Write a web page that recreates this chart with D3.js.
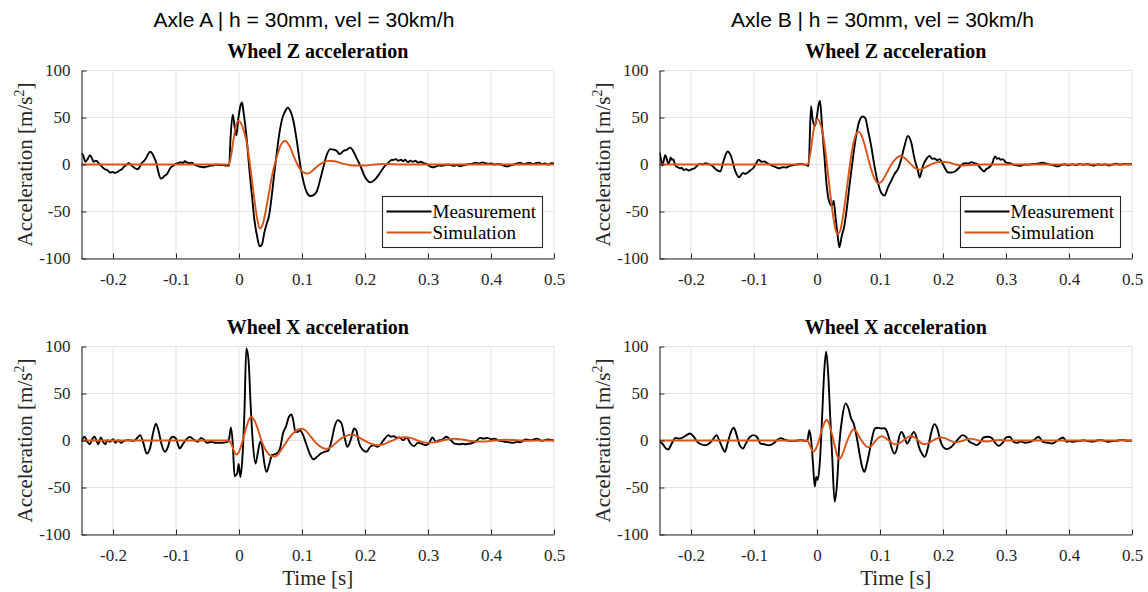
<!DOCTYPE html>
<html>
<head>
<meta charset="utf-8">
<script src="https://cdn.jsdelivr.net/npm/d3@7"></script>
<style>
  body { margin: 0; background: #fff; }
  svg { display: block; }
</style>
</head>
<body>
<svg id="chart" width="1148" height="592"></svg>
<script>
// ---- Labels and ticks ----
const axleTitles = ["Axle A | h = 30mm, vel = 30km/h", "Axle B | h = 30mm, vel = 30km/h"];
const panelTitles = ["Wheel Z acceleration", "Wheel X acceleration"];
const seriesNames = ["Measurement", "Simulation"];
const xTicks = [-0.2, -0.1, 0, 0.1, 0.2, 0.3, 0.4, 0.5];
const yTicks = [-100, -50, 0, 50, 100];
const xDomain = [-0.25, 0.5];
const yDomain = [-100, 100];

// ---- Axle A, wheel Z acceleration [time s, m/s^2] ----
const axleA_Z_meas = [
  [-0.25,12],[-0.247,9],[-0.244,3],[-0.240,6],[-0.2366,10],[-0.233,6],[-0.2308,3],[-0.227,4],[-0.222,1],
  [-0.218,-2],[-0.213,-5],[-0.209,-6],[-0.205,-8.5],[-0.200,-8],[-0.197,-9],[-0.193,-8],[-0.189,-6],
  [-0.186,-5],[-0.182,-2],[-0.178,0],[-0.175,1.5],[-0.172,0],[-0.169,-2],[-0.165,-4],[-0.162,-5],
  [-0.159,-4],[-0.155,1],[-0.152,3],[-0.148,6],[-0.145,10],[-0.141,13.5],[-0.138,12],[-0.135,8],
  [-0.131,1],[-0.128,-8],[-0.124,-15],[-0.121,-14],[-0.118,-12],[-0.114,-10],[-0.111,-6],[-0.108,-3],
  [-0.104,-1],[-0.1,1],[-0.096,1.5],[-0.092,2.5],[-0.089,1.5],[-0.086,3.5],[-0.082,2],[-0.078,1.5],
  [-0.075,2],[-0.071,0],[-0.068,-1],[-0.064,-2],[-0.06,-2.5],[-0.056,-3],[-0.053,-2.5],[-0.049,-2],
  [-0.045,-1],[-0.041,-1],[-0.037,0],[-0.033,-0.5],[-0.03,-0.7],[-0.026,-0.5],[-0.022,-1],[-0.018,-1],
  [-0.0155,-1],[-0.0135,27],[-0.010,53],[-0.007,41],[-0.0042,31],[-0.0012,48],[0.0021,62],[0.0048,66],
  [0.0074,55],[0.0106,37.7],[0.0138,16],[0.0169,-8.5],[0.0206,-33],[0.0243,-58],[0.0286,-76],
  [0.0328,-87],[0.0365,-85],[0.0402,-72.5],[0.0444,-62],[0.0476,-55],[0.0513,-37],[0.055,-15.6],
  [0.0593,9],[0.0635,30.5],[0.0683,48],[0.0735,57],[0.0772,60.5],[0.0815,57],[0.0868,45],[0.0921,23.5],
  [0.0974,-1.5],[0.1026,-19],[0.1079,-30],[0.1132,-33.5],[0.1185,-32.5],[0.1238,-28],[0.1291,-15.5],
  [0.1344,-1.5],[0.1397,11],[0.145,16.4],[0.1513,15.6],[0.155,14.6],[0.1598,11],[0.1661,14.6],
  [0.171,15.6],[0.1767,18],[0.181,14.6],[0.1862,7.5],[0.1926,-1.4],[0.2005,-13.9],[0.2085,-19],
  [0.2164,-15.6],[0.2243,-8.5],[0.231,-2],[0.236,1],[0.240,4],[0.245,5],[0.249,5.7],[0.253,4],
  [0.257,5],[0.2605,3.5],[0.264,5],[0.268,2.5],[0.272,4],[0.276,3],[0.28,4],[0.284,2],[0.289,3],
  [0.293,1.5],[0.297,1],[0.301,-1],[0.305,-2.5],[0.309,-3],[0.313,-2],[0.317,-1],[0.321,-1.5],
  [0.326,-1],[0.331,0],[0.336,-0.5],[0.341,-1.5],[0.346,-0.5],[0.351,-1.8],[0.356,-1],[0.361,0],
  [0.366,0.5],[0.371,1],[0.376,2],[0.381,1],[0.386,2.3],[0.391,1.5],[0.396,0.5],[0.401,1],[0.406,0],
  [0.411,0.5],[0.416,0],[0.421,-1.5],[0.426,-2],[0.431,-1],[0.436,0],[0.441,1],[0.446,2],[0.451,0.5],
  [0.456,1],[0.461,1.8],[0.466,0.5],[0.471,1.5],[0.476,2],[0.481,0.5],[0.486,1],[0.491,0],[0.496,1.5],
  [0.5,1]
];
const axleA_Z_sim = [
  [-0.25,0],[-0.016,0],[-0.012,12],[-0.008,30],[-0.004,43],[-0.001,46.5],[0.003,44],[0.008,35],
  [0.0127,22],[0.018,-3],[0.023,-30],[0.029,-58],[0.033,-68],[0.037,-65],[0.045,-40],[0.053,-10],
  [0.06,8],[0.066,20],[0.073,25],[0.08,20],[0.088,7],[0.096,-4],[0.104,-9],[0.109,-9.5],[0.115,-7.5],
  [0.124,-2],[0.133,2],[0.142,3.9],[0.152,3.5],[0.165,1],[0.182,-1],[0.2,-1],[0.215,0],[0.23,0.5],
  [0.26,0],[0.5,0]
];

// ---- Axle B, wheel Z acceleration ----
const axleB_Z_meas = [
  [-0.2497,12.8],[-0.2476,5],[-0.2456,-1],[-0.2433,4],[-0.241,10],[-0.2385,6],[-0.2363,0.7],
  [-0.2342,3],[-0.2322,7.5],[-0.2302,5],[-0.2282,5.7],[-0.2258,1],[-0.2235,-2],[-0.2205,-3],
  [-0.2177,-4],[-0.2148,-3.5],[-0.2119,-5.7],[-0.2075,-5],[-0.2031,-6.4],[-0.1988,-5],[-0.1944,-4],
  [-0.19,-1],[-0.1857,0.7],[-0.1813,0],[-0.177,1.4],[-0.1726,0.5],[-0.1682,-0.5],[-0.1638,-3],
  [-0.1595,-5.7],[-0.1537,-7.4],[-0.1478,5],[-0.142,13.8],[-0.1362,8.5],[-0.1304,-5.7],[-0.1234,-13.5],
  [-0.1176,-9],[-0.1138,-10],[-0.11,-8.5],[-0.1056,-6],[-0.1013,-4],[-0.0969,1],[-0.0925,5],
  [-0.0882,3],[-0.0838,3.2],[-0.078,1],[-0.0722,-1],[-0.0664,-2.5],[-0.0605,-4],[-0.0547,-3],
  [-0.0489,-3.2],[-0.0431,-1.5],[-0.0373,-0.7],[-0.0315,0],[-0.0256,0.7],[-0.0212,0],[-0.0169,-0.5],
  [-0.0145,-1.4],[-0.0133,-1.4],[-0.0095,62],[-0.0069,48],[-0.0032,41],[0,52],[0.0027,64],
  [0.0048,67.7],[0.008,41],[0.0117,9],[0.0154,-22.7],[0.0196,-40],[0.0239,-44],[0.0265,-38.6],
  [0.0292,-54.6],[0.0329,-76],[0.0355,-88],[0.0393,-76],[0.0435,-65],[0.0472,-47.5],[0.0515,-22.7],
  [0.0568,5.7],[0.0621,30.5],[0.0674,46.5],[0.0727,51],[0.0769,49],[0.0806,37.6],[0.0859,20],
  [0.0912,-1.4],[0.0966,-19],[0.1019,-30],[0.1072,-33],[0.1125,-24.5],[0.1178,-17.4],[0.1231,-10],
  [0.1284,-5],[0.1337,5.7],[0.139,20],[0.1443,30.5],[0.1496,23.4],[0.1549,5.7],[0.1602,-6.7],
  [0.1629,-13.8],[0.1682,-1.4],[0.1735,5.7],[0.1788,9.2],[0.1827,6],[0.1867,6.4],[0.1907,4.5],
  [0.1947,5.7],[0.2,0],[0.204,-5],[0.208,-8.5],[0.213,-8.5],[0.2189,-7.4],[0.2247,-4],[0.2305,0.3],
  [0.2363,1.4],[0.2407,1],[0.245,2.5],[0.2494,1.5],[0.2538,0.7],[0.2596,-4],[0.2625,-6],[0.2654,-7.4],
  [0.2683,-5],[0.2712,-4],[0.2771,-0.3],[0.2829,8.5],[0.2858,6],[0.2887,6.7],[0.2916,5],[0.2945,5.7],
  [0.3004,2],[0.3062,1.4],[0.312,-0.3],[0.3178,-1],[0.3236,-1.4],[0.3295,0],[0.3353,-0.3],
  [0.3411,0.5],[0.3469,0.7],[0.3528,1.2],[0.3586,2],[0.3644,0.8],[0.3702,-0.1],[0.376,-1],
  [0.3818,-2],[0.3876,-0.5],[0.3935,0.2],[0.3993,-0.8],[0.4051,0.3],[0.411,-0.5],[0.4168,0.5],
  [0.4226,-0.3],[0.4284,0.6],[0.4343,-0.5],[0.4401,-1.2],[0.4459,0.2],[0.4517,-0.6],[0.4575,0.3],
  [0.4634,-1],[0.4692,0],[0.475,0.8],[0.4808,-0.2],[0.4866,0.5],[0.4925,0.2],[0.5,0.6]
];
const axleB_Z_sim = [
  [-0.25,0],[-0.015,0],[-0.01,14],[-0.006,34],[-0.002,46],[0.001,48],[0.005,44],[0.01,30],
  [0.015,5],[0.02,-25],[0.025,-52],[0.029,-68],[0.033,-74],[0.037,-70],[0.042,-52],[0.048,-22],
  [0.054,8],[0.059,26],[0.065,35],[0.07,32],[0.076,20],[0.083,2],[0.09,-13],[0.097,-20],[0.103,-18],
  [0.11,-10],[0.118,0],[0.125,6],[0.132,9],[0.139,7],[0.148,1],[0.156,-4],[0.164,-5.5],[0.172,-3],
  [0.182,0.5],[0.192,2.5],[0.2,3],[0.21,2],[0.22,0],[0.232,-1],[0.245,-0.5],[0.26,0],[0.5,0]
];

// ---- Axle A, wheel X acceleration ----
const axleA_X_meas = [
  [-0.25,-1.4],[-0.2453,4],[-0.2407,-1.4],[-0.2366,-4],[-0.2326,2],[-0.2291,4],[-0.2262,-0.3],
  [-0.2233,-4],[-0.2192,3.2],[-0.2157,-1.4],[-0.2122,-4],[-0.2087,0.4],[-0.2047,-1.4],[-0.2,1.4],
  [-0.1959,-2.5],[-0.1919,0.4],[-0.1872,-2.5],[-0.1826,-0.4],[-0.1756,0.4],[-0.1669,-0.4],
  [-0.161,3.2],[-0.157,5.7],[-0.1523,-1.4],[-0.1465,-13.9],[-0.1407,-6.8],[-0.136,9.2],[-0.132,18],
  [-0.1279,11],[-0.1233,-3.2],[-0.1174,-12],[-0.1128,-6.8],[-0.1087,2],[-0.1047,4],[-0.1,2],
  [-0.0942,-8.5],[-0.0884,-3.2],[-0.0826,2],[-0.0779,3.9],[-0.0721,1],[-0.0651,-1.4],[-0.0605,2.8],
  [-0.0558,1],[-0.0506,-2.5],[-0.0448,-1.4],[-0.036,-2.5],[-0.0273,-2.5],[-0.0186,-1.4],
  [-0.0157,2],[-0.0128,13.9],[-0.0099,-3.2],[-0.007,-38],[-0.0029,-35],[-0.0006,-25],[0.0023,-38.8],
  [0.0058,-13.9],[0.0087,32],[0.0116,98],[0.0151,85.7],[0.0186,36],[0.0221,-3.2],[0.0262,-24.5],
  [0.0297,-13.9],[0.0337,-1.4],[0.0372,-8.5],[0.0395,-21],[0.0436,-33.4],[0.0483,-24.5],
  [0.0523,-15.6],[0.057,-14.6],[0.0616,-13],[0.0657,-6.8],[0.0698,7.5],[0.0744,14.6],[0.0791,25],
  [0.0831,27.7],[0.086,21.7],[0.0895,9.2],[0.093,9.2],[0.0965,11],[0.1006,7.5],[0.1064,-3.2],
  [0.1122,-13.9],[0.118,-20],[0.1238,-17.4],[0.1297,-13.9],[0.1355,-12],[0.1413,-11],[0.1471,0.4],
  [0.1517,14.6],[0.157,21.7],[0.1628,18],[0.1674,4],[0.1721,-6.8],[0.1779,2],[0.1826,12.8],
  [0.186,11],[0.1907,-3.2],[0.1965,-10],[0.2023,-12],[0.2081,-6.8],[0.214,-5],[0.2198,-6.8],
  [0.2256,-3.2],[0.2314,2],[0.2372,5.7],[0.2415,4],[0.2459,4.6],[0.2503,3],[0.2547,3.2],
  [0.2605,0.4],[0.2663,3.2],[0.2721,-3.2],[0.2779,-6],[0.2837,-2.5],[0.2895,-3.2],[0.2953,-5],
  [0.3012,-3.2],[0.307,3.2],[0.3128,-1.4],[0.3172,0],[0.3215,0.4],[0.3291,4],[0.336,0.4],
  [0.3419,-3.2],[0.3463,-3.8],[0.3506,-4],[0.355,-3.5],[0.3593,-4],[0.3636,-3.5],[0.368,-3.2],
  [0.3767,-0.4],[0.3826,2.8],[0.3884,2],[0.3942,2.8],[0.4,1.5],[0.4058,2],[0.4101,0.5],[0.4145,-0.4],
  [0.4233,-1.4],[0.4291,-2],[0.4349,-2.5],[0.4407,-1.5],[0.4465,-1.8],[0.4552,1],[0.464,0.4],
  [0.4727,2],[0.4814,-0.4],[0.4901,1],[0.5,0]
];
const axleA_X_sim = [
  [-0.25,0],[-0.016,0],[-0.012,-4],[-0.008,-11],[-0.004,-15],[0.0,-12],[0.005,-2],[0.01,10],
  [0.015,21],[0.019,25],[0.024,22],[0.03,12],[0.036,-1],[0.043,-11],[0.05,-16],[0.057,-17],
  [0.064,-13],[0.072,-5],[0.08,3],[0.088,9],[0.095,12],[0.1,12.5],[0.106,10.5],[0.113,5],[0.12,-1],
  [0.128,-6],[0.135,-8.5],[0.14,-8.7],[0.147,-6.5],[0.155,-2],[0.163,2.5],[0.17,5],[0.178,6.2],
  [0.186,5],[0.195,1.5],[0.203,-1.5],[0.212,-4],[0.22,-5],[0.229,-4],[0.238,-1.5],[0.247,1],
  [0.255,3],[0.262,3.5],[0.27,3],[0.28,1],[0.29,-1.5],[0.301,-2.5],[0.31,-2],[0.32,-0.5],[0.33,1],
  [0.342,1.8],[0.355,1],[0.368,-0.5],[0.383,-1.2],[0.398,-0.6],[0.41,0.3],[0.423,0.8],[0.44,0.3],
  [0.46,-0.3],[0.48,0],[0.5,0]
];

// ---- Axle B, wheel X acceleration ----
const axleB_X_meas = [
  [-0.2497,-1.4],[-0.2456,-3.2],[-0.241,-7.5],[-0.2363,-9.6],[-0.2305,-3.2],[-0.2247,2.8],
  [-0.2189,2],[-0.213,3.2],[-0.2072,5.7],[-0.2014,7.5],[-0.1956,4],[-0.1898,-1.4],[-0.1839,-4],
  [-0.1781,-5],[-0.1711,-3.2],[-0.1653,1],[-0.1595,5.7],[-0.1548,-0.4],[-0.1508,-6.8],[-0.1461,-12],
  [-0.142,-3.2],[-0.1374,7.5],[-0.1321,13.5],[-0.1275,5.7],[-0.1228,-5],[-0.1176,-8.5],
  [-0.1129,-3.2],[-0.1071,3.2],[-0.1013,5.7],[-0.0955,4],[-0.0896,-3.2],[-0.0838,-4],[-0.0768,-5],
  [-0.0693,-3.2],[-0.0634,0.4],[-0.0576,2.5],[-0.0518,1],[-0.0431,-0.4],[-0.0343,-0.4],[-0.0256,0.4],
  [-0.0186,-0.4],[-0.0151,0.4],[-0.0122,11],[-0.0093,0.4],[-0.0064,-24.5],[-0.0035,-49],
  [-0.0012,-38.8],[0.0012,-42],[0.0047,-21],[0.0081,25],[0.0116,75],[0.0146,94.5],[0.018,68],
  [0.021,25],[0.0244,-21],[0.0279,-65],[0.0314,-49],[0.0355,-3.2],[0.0402,25],[0.0454,39.5],
  [0.05,34],[0.0541,23.5],[0.0582,18],[0.0629,4],[0.0675,-13.9],[0.0716,-28],[0.0751,-33.4],
  [0.0792,-24.5],[0.0838,-10],[0.0879,4],[0.092,12.8],[0.0966,13.5],[0.1024,12.8],[0.1071,13],
  [0.1112,9.2],[0.1152,0.4],[0.1187,-8.5],[0.1228,-13.9],[0.1269,-8.5],[0.1304,4],[0.1345,9.2],
  [0.1385,4],[0.1432,-3.2],[0.1478,2],[0.1537,9.2],[0.1577,4],[0.1618,-6.8],[0.1665,-13.9],
  [0.1711,-17.4],[0.1764,-6.8],[0.181,7.5],[0.1863,17.4],[0.1909,12.8],[0.1956,0.4],[0.2002,-6.8],
  [0.206,-9.2],[0.213,-6.8],[0.2189,-2.5],[0.2247,2],[0.2305,5.7],[0.2363,4],[0.2421,-1.4],
  [0.248,-3.2],[0.2538,-5],[0.2596,-1.4],[0.2643,3.2],[0.2712,4],[0.2771,2.8],[0.2829,-2.5],
  [0.2887,-5.7],[0.2945,-2.5],[0.3004,3.2],[0.3062,4],[0.312,-1.4],[0.3178,-2.5],[0.3221,-1],
  [0.3265,-1.4],[0.3309,-2.5],[0.3353,-2],[0.344,0.4],[0.3516,4],[0.3586,-1.4],[0.3673,-2.5],
  [0.3731,-3.2],[0.3818,0],[0.3906,3.2],[0.3964,-1.4],[0.4008,-0.5],[0.4051,-1.4],[0.411,-0.8],
  [0.4168,-0.4],[0.4226,0.3],[0.4284,-0.4],[0.4342,-1],[0.44,-0.8],[0.4459,0.3],[0.4517,0.4],
  [0.4575,-0.6],[0.4633,-1.4],[0.4692,-0.5],[0.475,-0.4],[0.4808,0.4],[0.4866,0.4],[0.4935,-0.3],
  [0.5,0]
];
const axleB_X_sim = [
  [-0.25,0],[-0.016,0],[-0.012,-4],[-0.009,-9],[-0.006,-12],[-0.002,-9],[0.003,0],[0.008,12],
  [0.012,19],[0.015,22],[0.019,18],[0.024,6],[0.029,-8],[0.032,-16],[0.035,-20],[0.039,-17],
  [0.044,-8],[0.05,3],[0.055,10],[0.058,12],[0.062,10],[0.068,3],[0.074,-3],[0.08,-7],[0.085,-6.5],
  [0.091,-2],[0.097,2.5],[0.102,4.6],[0.108,3],[0.114,0],[0.12,-3],[0.124,-4],[0.13,-3],[0.137,0],
  [0.143,3],[0.148,4.6],[0.154,3.5],[0.16,0.5],[0.165,-2.5],[0.17,-4],[0.176,-3],[0.184,0],[0.19,2],
  [0.196,3.2],[0.203,2.5],[0.21,0.5],[0.219,-2],[0.228,-1],[0.235,0.5],[0.242,2],[0.25,1.2],
  [0.26,-0.5],[0.27,-1],[0.28,0],[0.29,0.5],[0.3,0],[0.5,0]
];

// ---- Layout and styling ----
const W = 1148, H = 592;
const colLeft = [81.5, 659.5];
const rowTop = [70.5, 346.5];
const plotW = 472.5, plotH = 188;
const axisColor = "#262626";
const gridColor = "#e3e3e3";
const measColor = "#000000";
const simColor = "#D95319";
const serif = "'Liberation Serif', 'Times New Roman', serif";
const sans = "'Liberation Sans', Arial, sans-serif";

const panels = [
  { col: 0, row: 0, title: panelTitles[0], meas: axleA_Z_meas, sim: axleA_Z_sim, legend: true },
  { col: 1, row: 0, title: panelTitles[0], meas: axleB_Z_meas, sim: axleB_Z_sim, legend: true },
  { col: 0, row: 1, title: panelTitles[1], meas: axleA_X_meas, sim: axleA_X_sim, legend: false, xlabel: true },
  { col: 1, row: 1, title: panelTitles[1], meas: axleB_X_meas, sim: axleB_X_sim, legend: false, xlabel: true }
];

const svg = d3.select("#chart");
svg.append("rect").attr("width", W).attr("height", H).attr("fill", "#fff");

// Column headings (one per axle)
const headingX = [304, 882.5];
axleTitles.forEach((t, i) => {
  svg.append("text")
    .attr("x", headingX[i]).attr("y", 26.5)
    .attr("text-anchor", "middle")
    .attr("font-family", sans).attr("font-size", 21)
    .attr("fill", "#000")
    .text(t);
});

panels.forEach((p, idx) => {
  const left = colLeft[p.col], top = rowTop[p.row];
  const x = d3.scaleLinear().domain(xDomain).range([left, left + plotW]);
  const y = d3.scaleLinear().domain(yDomain).range([top + plotH, top]);
  const g = svg.append("g");

  // Grid
  g.append("g").selectAll("line").data(xTicks).join("line")
    .attr("x1", d => x(d)).attr("x2", d => x(d))
    .attr("y1", top).attr("y2", top + plotH)
    .attr("stroke", gridColor).attr("stroke-width", 1);
  g.append("g").selectAll("line").data(yTicks).join("line")
    .attr("x1", left).attr("x2", left + plotW)
    .attr("y1", d => y(d)).attr("y2", d => y(d))
    .attr("stroke", gridColor).attr("stroke-width", 1);

  // Data lines, clipped to the plot box
  const clipId = "clip" + idx;
  svg.append("clipPath").attr("id", clipId).append("rect")
    .attr("x", left).attr("y", top - 1).attr("width", plotW).attr("height", plotH + 2);
  const line = d3.line().x(d => x(d[0])).y(d => y(d[1])).curve(d3.curveMonotoneX);
  const lines = g.append("g").attr("clip-path", `url(#${clipId})`);
  lines.append("path").datum(p.meas)
    .attr("d", line).attr("fill", "none")
    .attr("stroke", measColor).attr("stroke-width", 1.9)
    .attr("stroke-linejoin", "round");
  lines.append("path").datum(p.sim)
    .attr("d", line).attr("fill", "none")
    .attr("stroke", simColor).attr("stroke-width", 1.9)
    .attr("stroke-linejoin", "round");

  // Axes (left and bottom) with inward ticks
  const xAxis = d3.axisBottom(x).tickValues(xTicks).tickSizeInner(-5).tickSizeOuter(0)
    .tickPadding(14).tickFormat(d => String(d));
  const yAxis = d3.axisLeft(y).tickValues(yTicks).tickSizeInner(-5).tickSizeOuter(0)
    .tickPadding(11).tickFormat(d => String(d));
  const gx = g.append("g").attr("transform", `translate(0,${top + plotH})`).call(xAxis);
  const gy = g.append("g").attr("transform", `translate(${left},0)`).call(yAxis);
  [gx, gy].forEach(a => {
    a.select(".domain").attr("stroke", axisColor).attr("stroke-width", 1.1);
    a.selectAll(".tick line").attr("stroke", axisColor).attr("stroke-width", 1);
    a.selectAll(".tick text").attr("fill", axisColor)
      .attr("font-family", serif).attr("font-size", 17);
  });

  // Panel title
  g.append("text")
    .attr("x", left + plotW / 2).attr("y", top - 12.5)
    .attr("text-anchor", "middle")
    .attr("font-family", serif).attr("font-weight", "bold").attr("font-size", 20)
    .attr("fill", "#000")
    .text(p.title);

  // Y-axis label with superscript
  const yl = g.append("text")
    .attr("transform", `translate(${left - 50},${top + plotH / 2}) rotate(-90)`)
    .attr("text-anchor", "middle")
    .attr("font-family", serif).attr("font-size", 21)
    .attr("fill", axisColor);
  yl.append("tspan").text("Acceleration [m/s");
  yl.append("tspan").attr("font-size", 14).attr("dy", -8).text("2");
  yl.append("tspan").attr("dy", 8).text("]");

  // X-axis label
  if (p.xlabel) {
    g.append("text")
      .attr("x", left + plotW / 2).attr("y", 585)
      .attr("text-anchor", "middle")
      .attr("font-family", serif).attr("font-size", 21)
      .attr("fill", axisColor)
      .text("Time [s]");
  }

  // Legend
  if (p.legend) {
    const lx = left + plotW - 171.5, ly = top + 126, lw = 160, lh = 51;
    const lg = g.append("g");
    lg.append("rect").attr("x", lx).attr("y", ly).attr("width", lw).attr("height", lh)
      .attr("fill", "#fff").attr("stroke", axisColor).attr("stroke-width", 1.1);
    const rows = [
      { name: seriesNames[0], color: measColor, dy: 15 },
      { name: seriesNames[1], color: simColor, dy: 36 }
    ];
    rows.forEach(r => {
      lg.append("line")
        .attr("x1", lx + 4).attr("x2", lx + 49)
        .attr("y1", ly + r.dy).attr("y2", ly + r.dy)
        .attr("stroke", r.color).attr("stroke-width", 1.9);
      lg.append("text")
        .attr("x", lx + 50).attr("y", ly + r.dy)
        .attr("dy", "0.34em")
        .attr("font-family", serif).attr("font-size", 19)
        .attr("fill", "#000")
        .text(r.name);
    });
  }
});
</script>
</body>
</html>
